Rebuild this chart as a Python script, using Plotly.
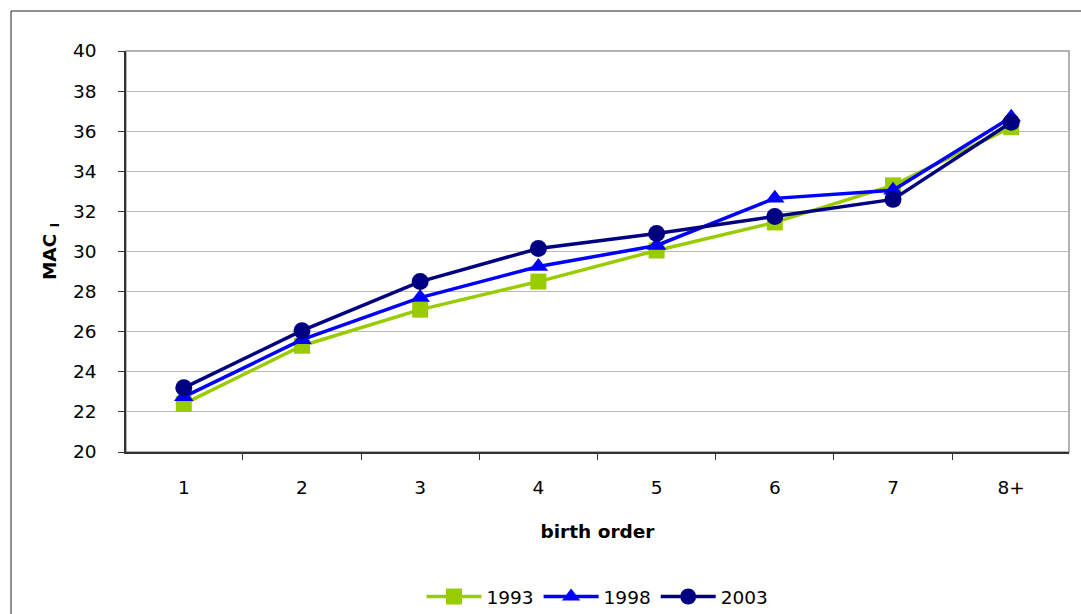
import plotly.graph_objects as go

categories = ["1", "2", "3", "4", "5", "6", "7", "8+"]
mac_1993 = [22.4, 25.3, 27.1, 28.5, 30.05, 31.45, 33.3, 36.2]
mac_1998 = [22.75, 25.6, 27.7, 29.25, 30.3, 32.65, 33.05, 36.7]
mac_2003 = [23.2, 26.05, 28.5, 30.15, 30.9, 31.75, 32.6, 36.45]

series = [
    ("1993", mac_1993, "#99CC00", "square", 16),
    ("1998", mac_1998, "#0000FF", "triangle-up", 17),
    ("2003", mac_2003, "#000080", "circle", 17),
]

fig = go.Figure()
for name, vals, color, sym, size in series:
    fig.add_trace(go.Scatter(
        x=categories, y=vals, name=name, mode="lines+markers",
        line=dict(color=color, width=3.5),
        marker=dict(symbol=sym, size=size, color=color),
    ))

W, H = 1081, 614
L, R, T, B = 126, 1069, 51, 452
pw, ph = R - L, B - T

def px(x):
    return (x - L) / pw

def py(y):
    return (B - y) / ph

FS = 18.5
FAM = "DejaVu Sans, Liberation Sans, Arial, sans-serif"

fig.update_layout(
    width=W, height=H,
    margin=dict(l=L, r=W - R, t=T, b=H - B, autoexpand=False),
    paper_bgcolor="white", plot_bgcolor="white",
    font=dict(family=FAM, size=FS, color="black"),
    showlegend=True,
    legend=dict(orientation="h", x=0.5, xanchor="center",
                yref="container", y=1 - 597 / H, yanchor="middle",
                font=dict(size=FS), itemwidth=55, bgcolor="rgba(0,0,0,0)"),
    xaxis=dict(
        type="category", tickson="boundaries", ticks="outside", ticklen=6,
        tickcolor="#333333", showline=True, linecolor="#333333", linewidth=1.5,
        showgrid=False, ticklabelstandoff=18,
        title=dict(text="<b>birth order</b>", font=dict(size=FS), standoff=28),
    ),
    yaxis=dict(
        range=[20, 40], dtick=2, ticks="outside", ticklen=6, tickcolor="#333333",
        showline=True, linecolor="#333333", linewidth=1.5,
        showgrid=True, gridcolor="#BBBBBB", gridwidth=1,
        ticklabelstandoff=18, zeroline=False,
        title=dict(text="<b>MAC <sub>i</sub></b>", font=dict(size=FS), standoff=12),
    ),
    shapes=[
        dict(type="rect", xref="paper", yref="paper", x0=0, x1=1, y0=0, y1=1,
             line=dict(color="#999999", width=1.5), layer="below"),
        dict(type="rect", xref="paper", yref="paper", x0=px(11), x1=px(1095),
             y0=py(630), y1=py(11), line=dict(color="#222222", width=1)),
    ],
)

fig.write_html("out.html", config={"displayModeBar": False},
               post_script="document.body.style.margin='0';document.body.style.overflow='hidden';")
